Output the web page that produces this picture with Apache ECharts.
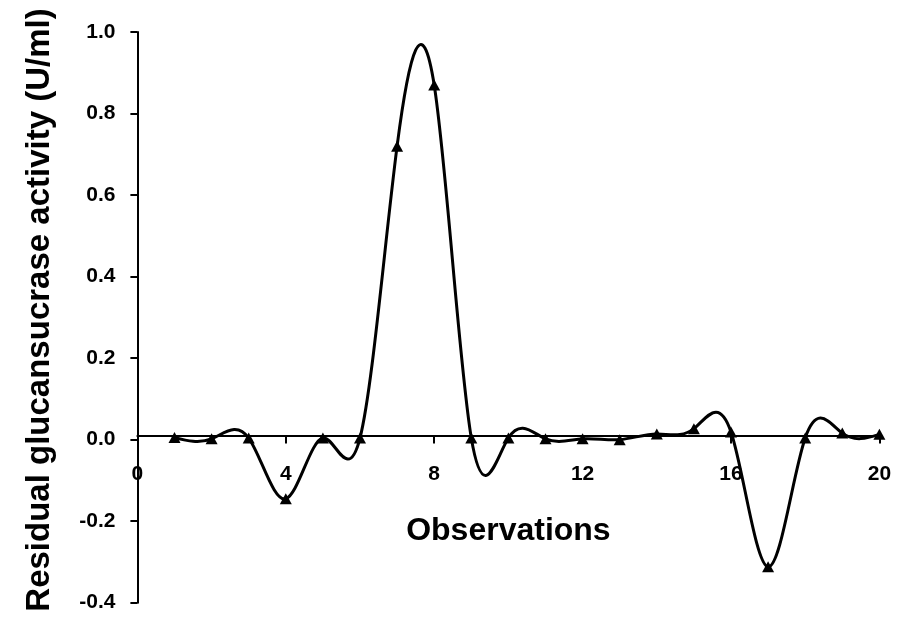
<!DOCTYPE html>
<html>
<head>
<meta charset="utf-8">
<title>Residual glucansucrase activity</title>
<script src="https://cdn.jsdelivr.net/npm/echarts@6/dist/echarts.min.js"></script>
<style>
  html, body { margin: 0; padding: 0; background: #ffffff; }
  #chart { width: 901px; height: 628px; }
</style>
</head>
<body>
<div id="chart"></div>
<script>
// Observation number and residual activity (U/ml)
const observations = [1, 2, 3, 4, 5, 6, 7, 8, 9, 10, 11, 12, 13, 14, 15, 16, 17, 18, 19, 20];
const residuals = [0.005, 0.002, 0.004, -0.145, 0.004, 0.004, 0.72, 0.87, 0.004, 0.004,
                   0.002, 0.002, 0.0, 0.014, 0.027, 0.019, -0.312, 0.004, 0.016, 0.013];

// Axis tick values
const xTickValues = [0, 4, 8, 12, 16, 20];
const yTickValues = [-0.4, -0.2, 0.0, 0.2, 0.4, 0.6, 0.8, 1.0];

// Level where the horizontal axis crosses the vertical one
const xAxisCrossing = 0.01;

const FONT = '"Liberation Sans", Arial, Helvetica, sans-serif';

// Natural cubic spline through the points, returned as cubic Bezier segments
function splineSegments(xs, ys) {
  const n = xs.length;
  const h = [];
  for (let i = 0; i < n - 1; i++) h.push(xs[i + 1] - xs[i]);
  const M = new Array(n).fill(0);
  if (n > 2) {
    const a = [], b = [], c = [], d = [];
    for (let i = 1; i < n - 1; i++) {
      a.push(h[i - 1]);
      b.push(2 * (h[i - 1] + h[i]));
      c.push(h[i]);
      d.push(6 * ((ys[i + 1] - ys[i]) / h[i] - (ys[i] - ys[i - 1]) / h[i - 1]));
    }
    const m = b.length;
    for (let i = 1; i < m; i++) {
      const w = a[i] / b[i - 1];
      b[i] -= w * c[i - 1];
      d[i] -= w * d[i - 1];
    }
    const sol = new Array(m);
    sol[m - 1] = d[m - 1] / b[m - 1];
    for (let i = m - 2; i >= 0; i--) sol[i] = (d[i] - c[i] * sol[i + 1]) / b[i];
    for (let i = 0; i < m; i++) M[i + 1] = sol[i];
  }
  const slope = [];
  for (let i = 0; i < n - 1; i++) {
    slope.push((ys[i + 1] - ys[i]) / h[i] - h[i] * (2 * M[i] + M[i + 1]) / 6);
  }
  slope.push((ys[n - 1] - ys[n - 2]) / h[n - 2] + h[n - 2] * (M[n - 2] + 2 * M[n - 1]) / 6);
  const segs = [];
  for (let i = 0; i < n - 1; i++) {
    const t = h[i] / 3;
    segs.push([
      [xs[i], ys[i]],
      [xs[i] + t, ys[i] + slope[i] * t],
      [xs[i + 1] - t, ys[i + 1] - slope[i + 1] * t],
      [xs[i + 1], ys[i + 1]]
    ]);
  }
  return segs;
}

const segments = splineSegments(observations, residuals);
const points = observations.map((x, i) => [x, residuals[i]]);

const chart = echarts.init(document.getElementById('chart'), null, { renderer: 'canvas' });

const yMin = yTickValues[0];
const yMax = yTickValues[yTickValues.length - 1];

const gridBox = { left: 137.4, right: 21.6, top: 32, bottom: 25.3 };
const plotHeight = 628 - gridBox.top - gridBox.bottom;
// lift the horizontal axis from the bottom edge up to the crossing level
const xAxisLift = (xAxisCrossing - yMin) / (yMax - yMin) * plotHeight;

chart.setOption({
  animation: false,
  backgroundColor: '#ffffff',
  grid: Object.assign({ containLabel: false, outerBoundsMode: 'none' }, gridBox),
  xAxis: {
    type: 'value',
    position: 'bottom',
    offset: -xAxisLift,
    min: xTickValues[0],
    max: xTickValues[xTickValues.length - 1],
    interval: xTickValues[1] - xTickValues[0],
    name: 'Observations',
    nameLocation: 'middle',
    nameGap: 80,
    nameTextStyle: { fontFamily: FONT, fontWeight: 'bold', fontSize: 32, color: '#000' },
    axisLine: { show: true, onZero: false, lineStyle: { color: '#000', width: 2 } },
    axisTick: { show: true, length: 8, lineStyle: { color: '#000', width: 2 } },
    axisLabel: { margin: 28, fontFamily: FONT, fontWeight: 'bold', fontSize: 21, color: '#000' },
    splitLine: { show: false }
  },
  yAxis: {
    type: 'value',
    min: yMin,
    max: yMax,
    interval: yTickValues[1] - yTickValues[0],
    axisLine: { show: true, onZero: false, lineStyle: { color: '#000', width: 2 } },
    axisTick: { show: true, length: 7, lineStyle: { color: '#000', width: 2 } },
    axisLabel: {
      margin: 22, fontFamily: FONT, fontWeight: 'bold', fontSize: 21, color: '#000',
      formatter: v => v.toFixed(1)
    },
    splitLine: { show: false }
  },
  graphic: [{
    type: 'text',
    x: 40,
    y: 310,
    rotation: Math.PI / 2,
    style: {
      text: 'Residual glucansucrase activity (U/ml)',
      fontFamily: FONT, fontWeight: 'bold', fontSize: 33, fill: '#000',
      align: 'center', verticalAlign: 'middle'
    }
  }],
  series: [{
    type: 'custom',
    data: points,
    encode: { x: 0, y: 1 },
    silent: true,
    z: 2,
    renderItem: function (params, api) {
      const i = params.dataIndex;
      if (i >= segments.length) return null;
      const s = segments[i];
      const p0 = api.coord(s[0]);
      const c1 = api.coord(s[1]);
      const c2 = api.coord(s[2]);
      const p1 = api.coord(s[3]);
      return {
        type: 'bezierCurve',
        shape: { x1: p0[0], y1: p0[1], cpx1: c1[0], cpy1: c1[1], cpx2: c2[0], cpy2: c2[1], x2: p1[0], y2: p1[1] },
        style: { stroke: '#000', lineWidth: 3, fill: 'none', lineCap: 'round' }
      };
    }
  }, {
    type: 'scatter',
    data: points,
    symbol: 'triangle',
    symbolSize: [12, 11],
    itemStyle: { color: '#000', opacity: 1 },
    z: 3
  }]
});
</script>
</body>
</html>
